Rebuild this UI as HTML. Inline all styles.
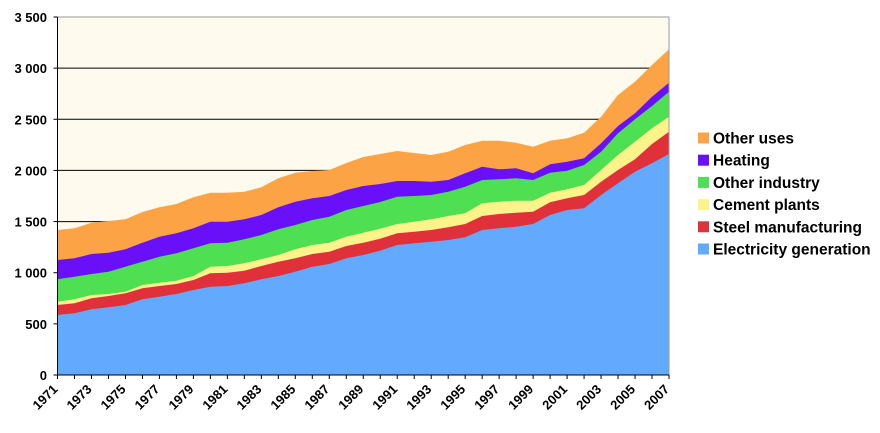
<!DOCTYPE html>
<html><head><meta charset="utf-8"><style>
html,body{margin:0;padding:0;background:#fff;}
svg text{font-family:"Liberation Sans",Arial,sans-serif;font-weight:bold;fill:#000;}
</style></head><body>
<svg id="s" width="880" height="428" xmlns="http://www.w3.org/2000/svg"></svg>
<script>
const s=document.getElementById('s');
const L=57.5,R=669,T=17,B=375;
let h='';
h+=`<rect x="${L}" y="${T}" width="${R-L}" height="${B-T}" fill="#FFFAEE"/>`;
for(let v=500;v<=3000;v+=500){const y=B-v*(B-T)/3500;h+=`<line x1="${L}" x2="${R}" y1="${y}" y2="${y}" stroke="#000" stroke-width="1"/>`;}
const d={
E:[945,940,928,922,915,898,890,882,870,860,858,850,838,828,815,800,792,775,765,752,735,730,725,720,712,690,685,680,672,645,630,625,585,550,515,490,462],
S:[915,910,895,888,880,865,858,852,840,820,818,812,798,785,775,762,755,738,728,716,700,695,690,682,672,648,642,638,635,607,595,585,545,510,478,432,395],
C:[905,898,885,882,875,855,848,842,828,800,798,790,778,765,748,735,728,710,698,686,672,665,658,648,640,610,605,602,602,578,568,555,510,465,425,385,350],
O:[838,830,822,815,800,785,770,760,745,730,728,718,705,688,675,660,650,630,618,606,590,588,585,575,560,540,538,535,540,518,512,495,455,400,358,318,275],
H:[780,775,762,758,748,728,710,700,685,665,665,658,645,622,605,595,588,570,558,552,543,543,545,540,520,500,508,505,520,493,485,475,430,378,340,290,248],
U:[690,685,668,663,658,636,622,612,592,578,578,575,562,535,518,513,510,489,471,462,453,459,465,455,435,422,422,428,440,422,415,398,350,285,245,195,148]};
const col={U:'#FCA445',H:'#6A10F8',O:'#4EE052',C:'#FDF38B',S:'#E0313B',E:'#63A9FE'};
const dx=(R-L)/36;
function pts(a){return a.map((v,i)=>`${(L+dx*i).toFixed(1)},${(v/3).toFixed(1)}`);}
['U','H','O','C','S','E'].forEach(k=>{
 h+=`<polygon fill="${col[k]}" points="${L},${B} ${pts(d[k]).join(' ')} ${R},${B}"/>`;
});
h+=`<line x1="${R}" y1="${T}" x2="${R}" y2="${B}" stroke="#999"/>`;
h+=`<line x1="${L}" y1="${T}" x2="${R}" y2="${T}" stroke="#999"/>`;
h+=`<line x1="${L}" y1="${T}" x2="${L}" y2="${B}" stroke="#000"/>`;
h+=`<line x1="${L}" y1="${B}" x2="${R}" y2="${B}" stroke="#000"/>`;
for(let v=0;v<=3500;v+=500){const y=B-v*(B-T)/3500;
 h+=`<line x1="${L-4}" x2="${L}" y1="${y}" y2="${y}" stroke="#000"/>`;
 const t=v>=1000?Math.floor(v/1000)+' '+String(v%1000).padStart(3,'0'):String(v);
 h+=`<text x="47" y="${y+5}" font-size="13" text-anchor="end">${t}</text>`;}
for(let i=0;i<=36;i++){const x=L+dx*i;h+=`<line x1="${x}" x2="${x}" y1="${B}" y2="${B+4}" stroke="#000"/>`;
 if(i%2==0)h+=`<text transform="translate(${x+1},${B+15}) rotate(-45)" font-size="13" text-anchor="end">${1971+i}</text>`;}
const lg=[['U','Other uses'],['H','Heating'],['O','Other industry'],['C','Cement plants'],['S','Steel manufacturing'],['E','Electricity generation']];
lg.forEach((e,i)=>{const y=138+i*22.2;
 h+=`<rect x="698" y="${y-5.5}" width="11" height="11" fill="${col[e[0]]}"/>`;
 h+=`<text x="713" y="${y+5.5}" font-size="15.5">${e[1]}</text>`;});
s.innerHTML=h;
</script>
</body></html>
